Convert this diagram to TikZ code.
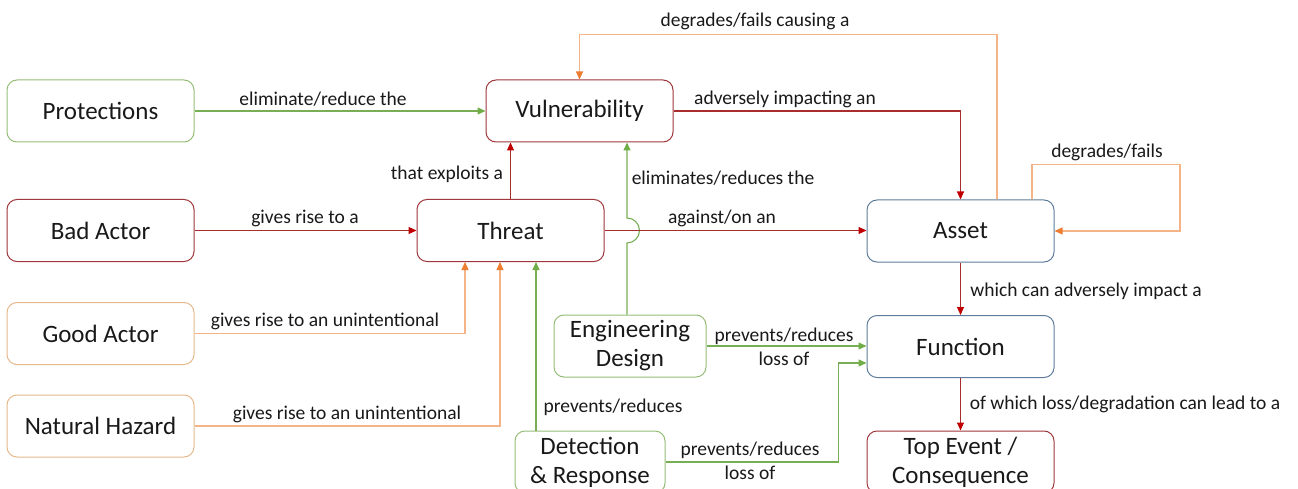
\documentclass[tikz,border=0pt]{standalone}
\usepackage{fontspec}
\setmainfont{Carlito}
\usetikzlibrary{arrows.meta}

\definecolor{redline}{RGB}{170,45,45}
\definecolor{redtip}{RGB}{192,0,0}
\definecolor{redbox}{RGB}{160,55,60}
\definecolor{greenline}{RGB}{120,175,85}
\definecolor{greentip}{RGB}{112,173,71}
\definecolor{greenbox}{RGB}{150,190,120}
\definecolor{orangeline}{RGB}{244,180,135}
\definecolor{orangetip}{RGB}{237,125,49}
\definecolor{orangebox}{RGB}{230,185,140}
\definecolor{bluebox}{RGB}{95,125,155}
\definecolor{ink}{RGB}{25,25,25}

\tikzset{
  box/.style={draw, line width=1pt, rounded corners=10pt, inner sep=0pt,
    minimum width=187pt, minimum height=62pt, align=center, text=ink,
    font=\fontsize{25}{29}\selectfont},
  redbx/.style={box, draw=redbox},
  greenbx/.style={box, draw=greenbox},
  orangebx/.style={box, draw=orangebox},
  bluebx/.style={box, draw=bluebox},
  lbl/.style={anchor=base, inner sep=0pt, text=ink, align=center,
    font=\fontsize{19.5}{24}\selectfont},
  rlink/.style={draw=redline, line width=1.1pt,
    -{Triangle[length=8pt,width=7pt,color=redtip]}},
  glink/.style={draw=greenline, line width=1.1pt,
    -{Triangle[length=8pt,width=7pt,color=greentip]}},
  olink/.style={draw=orangeline, line width=1.1pt,
    -{Triangle[length=8pt,width=7pt,color=orangetip]}},
}

\begin{document}
\begin{tikzpicture}[x=1pt, y=-1pt]
  \fill[white] (0,0) rectangle (1298,489);
  \useasboundingbox (0,0) rectangle (1298,489);
  \clip (0,0) rectangle (1298,489);

  % boxes
  \node[greenbx]  (prot)   at (100.5,111)   {Protections};
  \node[redbx]    (bad)    at (100.5,230.5) {Bad Actor};
  \node[orangebx] (good)   at (100.5,333.5) {Good Actor};
  \node[orangebx] (nat)    at (100.5,426)   {Natural Hazard};
  \node[redbx]    (vul)    at (579.5,111)   {Vulnerability};
  \node[redbx]    (threat) at (510.5,230.5) {Threat};
  \node[bluebx]   (asset)  at (960.5,231)   {Asset};
  \node[bluebx]   (func)   at (960.5,346.5) {Function};
  \node[redbx]    (top)    at (960.5,462)   {Top Event /\\Consequence};
  \node[greenbx, minimum width=152pt] (eng) at (630,346) {Engineering\\Design};
  \node[greenbx, minimum width=150pt] (det) at (590,462) {Detection\\\& Response};

  % connectors
  \draw[glink] (prot.east) -- (vul.west);
  \draw[rlink] (bad.east) -- (threat.west);
  \draw[olink] (good.east) -| ([xshift=-45.5pt]threat.south);
  \draw[olink] (nat.east) -| ([xshift=-10.5pt]threat.south);
  \coordinate (d1) at ([xshift=-54pt]det.north);
  \draw[glink] (d1) -- (d1 |- threat.south);
  \draw[rlink] (threat.north) -- (threat.north |- vul.south);
  \coordinate (e1) at ([xshift=-3pt]eng.north);
  \draw[glink] (e1) -- ([yshift=-12.5pt]e1 |- threat.east)
     arc[start angle=-90, end angle=90, radius=12.5pt] -- (e1 |- vul.south);
  \draw[rlink] (threat.east) -- (threat.east -| asset.west);
  \draw[rlink] (vul.east) -| (asset.north);
  \coordinate (a1) at ([xshift=36.5pt]asset.north);
  \draw[olink] (a1) -- ++(0,-165) -| (vul.north);
  \coordinate (a2) at ([xshift=71.5pt]asset.north);
  \draw[olink] (a2) -- ++(0,-35) -- ++(148,0) |- (asset.east);
  \draw[rlink] (asset.south) -- (func.north);
  \draw[rlink] (func.south) -- (top.north);
  \draw[glink] (eng.east) -- (eng.east -| func.west);
  \draw[glink] (det.east) -- ++(173,0) |- ([yshift=-16.5pt]func.west);

  % connector labels
  \node[lbl] (l1)  at (323,106)  {eliminate/reduce the};
  \node[lbl] (l2)  at (305,224)  {gives rise to a};
  \node[lbl] (l3)  at (325,326)  {gives rise to an unintentional};
  \node[lbl] (l4)  at (347,419)  {gives rise to an unintentional};
  \node[lbl] (l5)  at (447,180)  {that exploits a};
  \node[lbl] (l6)  at (723,185)  {eliminates/reduces the};
  \node[lbl] (l7)  at (722,224)  {against/on an};
  \node[lbl] (l8)  at (785,105)  {adversely impacting an};
  \node[lbl] (l9)  at (755,27)   {degrades/fails causing a};
  \node[lbl] (l10) at (1107,158) {degrades/fails};
  \node[lbl] (l11) at (1086,296) {which can adversely impact a};
  \node[lbl] (l12) at (1125,409) {of which loss/degradation can lead to a};
  \node[lbl] (l13) at (784,341)  {prevents/reduces};
  \node[lbl] (l14) at (784,365)  {loss of};
  \node[lbl] (l15) at (750,455)  {prevents/reduces};
  \node[lbl] (l16) at (750,479)  {loss of};
  \node[lbl] (l17) at (613,412)  {prevents/reduces};
\end{tikzpicture}
\end{document}
